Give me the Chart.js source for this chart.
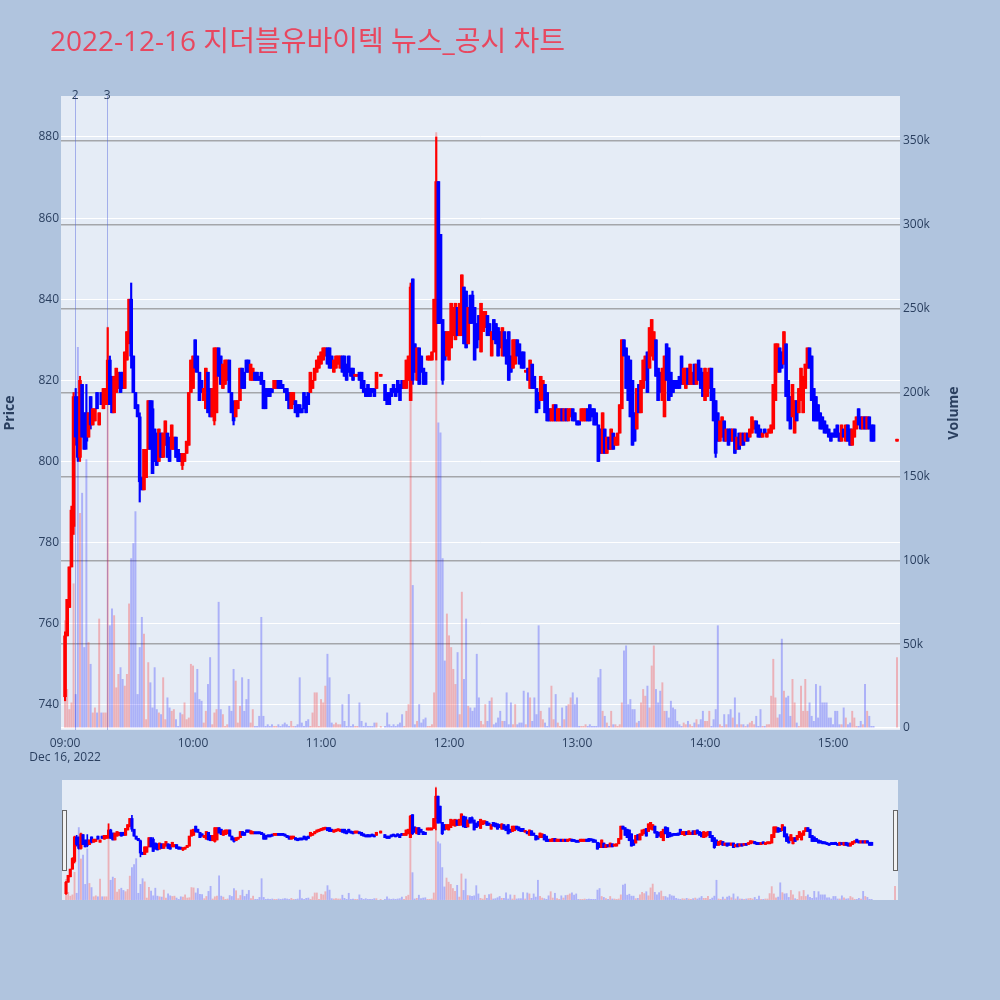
<!DOCTYPE html>
<html>
<head>
<meta charset="utf-8">
<script src="https://cdn.jsdelivr.net/npm/chart.js@4.4.0/dist/chart.umd.min.js"></script>
<style>
  body { margin: 0; background: #b0c4de; }
  #wrap { position: relative; width: 1000px; height: 1000px; }
  #title { position: absolute; left: 50px; top: 26px; line-height: 28px; font-size: 28px;
           color: #e8475f; font-family: "Open Sans", "Noto Sans CJK KR", sans-serif; white-space: nowrap; }
  #main { position: absolute; left: 0; top: 0; }
  #slider { position: absolute; left: 62px; top: 780px; }
</style>
</head>
<body>
<div id="wrap">
  <canvas id="main" width="1000" height="780"></canvas>
  <canvas id="slider" width="836" height="120"></canvas>
  <div id="title">2022-12-16 지더블유바이텍 뉴스_공시 차트</div>
</div>
<script>
// one entry per minute from 09:00 (index = minutes after 09:00), null = no trade
const opens = [
  742,757,764,774,784,816,806,801,819,812,
  812,806,816,809,810,817,809,817,813,814,
  815,825,821,812,817,818,822,822,818,825,
  830,840,826,817,814,811,796,793,796,803,
  815,813,808,807,800,807,801,804,807,806,
  803,803,806,803,802,799,800,802,804,817,
  818,830,826,822,820,815,813,822,818,811,
  810,812,828,826,818,819,820,825,817,814,
  811,813,815,823,822,825,825,820,820,822,
  822,821,822,820,818,818,818,818,818,818,
  820,820,819,818,818,817,813,814,815,814,
  814,813,817,816,817,817,818,820,822,823,
  824,825,826,828,828,826,822,823,824,823,
  826,826,824,826,823,823,821,821,822,822,
  820,818,819,818,818,818,818,null,821,null,
  819,817,817,818,819,818,820,819,820,818,
  818,820,815,845,829,820,828,826,823,822,
  825,825,825,827,840,869,856,835,832,826,
  825,828,831,830,838,831,835,843,842,829,
  841,841,838,834,836,827,832,833,836,834,
  826,835,834,833,832,826,832,830,832,826,
  823,824,830,829,827,827,822,823,818,824,
  821,818,817,815,815,819,817,813,810,810,
  814,810,810,813,810,813,810,811,813,812,
  810,810,810,810,810,813,814,813,813,812,
  809,808,802,808,802,806,803,807,804,804,
  807,813,830,828,826,825,820,812,808,819,
  812,818,820,827,823,826,825,830,823,822,
  815,811,829,828,822,820,820,820,821,826,
  819,818,823,819,819,824,819,825,823,822,
  815,816,818,823,818,815,812,805,806,810,
  805,808,808,805,808,803,807,804,807,805,
  807,806,807,808,810,809,808,806,808,806,
  807,807,808,815,822,828,827,824,829,820,
  816,811,807,815,812,815,812,818,823,828,
  826,818,816,814,812,811,810,809,808,807,
  807,808,809,807,805,808,805,809,808,804,
  806,808,813,811,808,811,808,811,809,809,
  null,null,null,null,null,null,null,null,null,null,
  805
];
const closes = [
  757,766,774,788,816,806,801,820,806,803,
  805,812,809,813,813,813,812,814,818,818,
  825,814,812,821,823,822,817,818,827,832,
  840,826,817,813,811,795,793,803,803,815,
  803,797,800,799,808,801,807,810,801,800,
  809,806,801,800,800,802,802,805,817,825,
  826,823,822,815,817,818,823,812,811,818,
  828,828,821,819,824,825,825,817,812,810,
  815,815,823,818,818,822,822,824,823,820,
  820,820,819,813,813,816,816,817,820,820,
  818,818,818,817,815,813,817,817,812,811,
  812,812,813,812,814,822,820,823,825,826,
  827,828,828,824,823,823,825,826,826,826,
  822,821,820,822,821,820,821,821,820,818,
  817,816,816,816,817,816,822,null,821,null,
  815,814,814,816,817,816,817,815,818,820,
  825,826,843,820,822,828,819,822,819,819,
  826,826,827,840,869,834,835,820,825,832,
  832,839,838,839,831,839,846,829,828,838,
  834,836,825,828,830,839,837,837,831,831,
  832,830,829,826,828,833,826,824,820,822,
  830,830,826,824,823,823,822,820,825,818,
  818,812,813,821,820,812,810,810,813,814,
  810,813,813,810,813,810,813,813,810,810,
  809,809,813,813,813,810,810,811,809,809,
  800,802,812,802,806,803,808,803,806,807,
  814,830,826,818,815,811,804,805,818,812,
  820,825,826,817,833,835,832,821,815,817,
  823,826,820,815,816,817,818,818,818,819,
  823,823,819,824,822,819,824,820,818,816,
  823,822,823,815,810,802,805,810,811,805,
  808,804,805,808,802,806,803,807,804,807,
  805,808,811,810,807,806,806,807,807,807,
  808,809,819,829,829,822,823,832,816,810,
  808,819,815,810,818,823,821,824,828,823,
  815,810,810,810,808,808,807,807,806,805,
  806,806,806,805,809,806,809,805,804,808,
  810,811,809,808,811,808,811,808,805,805,
  null,null,null,null,null,null,null,null,null,null,
  805
];
// volume in thousands of shares
const volumes = [
  64,23,11,15,86,20,227,128,140,48,
  160,51,38,9,12,9,65,9,9,9,
  239,61,71,67,24,32,36,29,25,32,
  74,101,110,129,20,48,66,56,5,39,
  27,12,36,11,9,8,30,5,18,12,
  10,11,5,1,9,8,15,5,6,38,
  37,21,35,17,16,3,10,26,42,2,
  9,11,75,11,8,1,2,13,10,35,
  28,3,13,30,10,17,29,3,11,1,
  1,7,66,7,1,2,1,2,1,1,
  2,1,2,3,2,1,4,1,1,2,
  30,3,1,4,5,1,9,21,21,1,
  17,15,25,44,30,3,2,3,2,2,
  14,4,1,20,1,2,1,1,15,4,
  1,3,1,1,1,3,3,null,1,null,
  1,9,2,1,2,1,2,3,8,1,
  10,14,264,85,2,4,14,3,5,6,
  1,1,2,21,355,182,176,101,40,68,
  55,48,35,26,45,8,81,29,65,13,
  12,10,12,44,18,4,2,14,4,16,
  18,2,3,6,10,4,4,21,2,15,
  2,14,2,3,3,22,2,21,18,4,
  18,8,61,10,5,3,1,12,25,5,
  20,3,1,12,5,13,14,18,21,14,
  18,1,1,1,2,1,2,1,1,1,
  30,35,10,7,3,1,10,2,2,1,
  2,15,46,49,14,17,11,11,3,4,
  15,23,19,25,12,37,49,23,15,22,
  27,10,10,6,16,12,11,4,2,1,
  3,2,4,2,1,3,5,2,5,10,
  4,4,10,1,5,11,61,2,1,8,
  2,8,11,6,18,2,9,2,2,1,
  2,3,4,2,7,1,11,1,1,2,
  2,19,41,18,6,8,53,22,18,19,
  7,29,15,3,1,25,10,29,10,15,
  7,4,26,6,25,15,15,15,6,6,
  2,10,10,2,2,12,6,2,3,10,
  6,1,1,4,2,26,10,7,1,1,
  null,null,null,null,null,null,null,null,null,null,
  42
];
// [minute, low, high] where the wick goes past the body
const wicks = [
  [0,741,758],[3,781,789],[4,782,817],[5,804,818],[6,800,816],[7,800,821],
  [10,803,819],[12,808,816],[20,814,833],[21,814,826],[30,829,840],[31,823,844],
  [35,790,812],[37,793,803],[41,797,815],[55,798,802],[61,822,830],[70,809,828],
  [79,809,815],[162,815,844],[163,819,845],[174,825,880],[175,834,869],[176,834,856],
  [177,819,835],[186,831,846],[191,834,842],[250,800,809],[262,826,830],[266,804,820],
  [275,826,835],[281,811,826],[289,819,826],[305,801,815],[337,824,832],[342,807,815],
  [372,809,813]
];
const newsMinutes = [4.7, 19.7];
const newsLabels = ["2", "3"];
const priceTicks = [740, 760, 780, 800, 820, 840, 860, 880];
const volumeTicks = [0, 50, 100, 150, 200, 250, 300, 350];
const timeTicks = [0, 60, 120, 180, 240, 300, 360];

const UP = "#ff0000", DOWN = "#0000ff";
const X_MIN = -1.9, X_MAX = 391.4;
const P_MIN = 733.8, P_MAX = 890.1;
const V_MIN = -1.2, V_MAX = 376.8;
const TXT = "#2a3f5f";

function buildDatasets(bodyW, wickW, volW) {
  const body = [], wick = [], vol = [], bodyCol = [], volCol = [];
  for (let m = 0; m < opens.length; m++) {
    if (opens[m] == null) continue;
    const o = opens[m], c = closes[m];
    let lo = Math.min(o, c), hi = Math.max(o, c);
    const w = wicks.find(a => a[0] === m);
    if (w) { lo = Math.min(lo, w[1]); hi = Math.max(hi, w[2]); }
    const up = c >= o;
    body.push({ x: m, y: [o, c] });
    wick.push({ x: m, y: [lo, hi] });
    vol.push({ x: m, y: volumes[m] });
    bodyCol.push(up ? UP : DOWN);
    volCol.push(up ? "rgba(255,0,0,0.25)" : "rgba(0,0,255,0.25)");
  }
  return [
    { data: body, backgroundColor: bodyCol, barThickness: bodyW, minBarLength: 2,
      grouped: false, yAxisID: "y", order: 1 },
    { data: wick, backgroundColor: bodyCol, barThickness: wickW, minBarLength: 2,
      grouped: false, yAxisID: "y", order: 2 },
    { data: vol, backgroundColor: volCol, barThickness: volW,
      grouped: false, yAxisID: "yv", order: 3 },
  ];
}

function hhmm(v) {
  const h = 9 + Math.floor(v / 60), m = v % 60;
  return String(h).padStart(2, "0") + ":" + String(m).padStart(2, "0");
}

const plotBg = {
  id: "plotBg",
  beforeDraw(chart) {
    const { ctx, chartArea: a } = chart;
    ctx.save();
    ctx.fillStyle = "#e5ecf6";
    ctx.fillRect(a.left, a.top, a.right - a.left, a.bottom - a.top);
    ctx.restore();
  }
};

const news = {
  id: "news",
  beforeDatasetsDraw(chart) {
    const { ctx, chartArea: a } = chart;
    const xs = chart.scales.x;
    ctx.save();
    ctx.strokeStyle = "rgba(80,100,220,0.45)";
    ctx.lineWidth = 1;
    newsMinutes.forEach(t => {
      const px = Math.round(xs.getPixelForValue(t)) + 0.5;
      ctx.beginPath(); ctx.moveTo(px, a.top); ctx.lineTo(px, a.bottom); ctx.stroke();
    });
    ctx.restore();
  },
  afterDraw(chart) {
    const { ctx, chartArea: a } = chart;
    const xs = chart.scales.x;
    ctx.save();
    ctx.fillStyle = TXT;
    ctx.font = '12px "Open Sans"';
    ctx.textAlign = "center";
    ctx.textBaseline = "middle";
    newsMinutes.forEach((t, i) => ctx.fillText(newsLabels[i], xs.getPixelForValue(t), a.top));
    ctx.font = 'bold 14px "Open Sans"';
    [["Price", 10], ["Volume", 954]].forEach(([s, x]) => {
      ctx.save();
      ctx.translate(x, 413);
      ctx.rotate(-Math.PI / 2);
      ctx.fillText(s, 0, 0);
      ctx.restore();
    });
    ctx.restore();
  }
};

const tickFont = { family: "Open Sans", size: 12 };

new Chart(document.getElementById("main"), {
  type: "bar",
  data: { datasets: buildDatasets(3, 1.5, 1.3) },
  options: {
    responsive: false,
    animation: false,
    events: [],
    layout: { padding: { top: 96, left: 0, right: 0, bottom: 0 } },
    plugins: { legend: { display: false }, tooltip: { enabled: false } },
    scales: {
      x: {
        type: "linear", min: X_MIN, max: X_MAX, offset: false,
        afterFit(s) { s.height = 50; },
        afterBuildTicks(s) { s.ticks = timeTicks.map(v => ({ value: v })); },
        grid: { display: false, offset: false, drawTicks: false },
        border: { display: false },
        ticks: {
          color: TXT, font: tickFont, padding: 6, maxRotation: 0,
          callback: v => v === 0 ? [hhmm(v), "Dec 16, 2022"] : hhmm(v)
        }
      },
      y: {
        position: "left", min: P_MIN, max: P_MAX,
        afterFit(s) { s.width = 61; },
        afterBuildTicks(s) { s.ticks = priceTicks.map(v => ({ value: v })); },
        grid: { color: "#ffffff", lineWidth: 1, drawTicks: false },
        border: { display: false },
        ticks: { color: TXT, font: tickFont, padding: 2 }
      },
      yv: {
        position: "right", min: V_MIN, max: V_MAX,
        afterFit(s) { s.width = 100; },
        afterBuildTicks(s) { s.ticks = volumeTicks.map(v => ({ value: v })); },
        grid: {
          color: c => c.tick && c.tick.value === 0 ? "#ffffff" : "rgba(120,120,120,0.6)",
          lineWidth: 1.5, drawTicks: false
        },
        border: { display: false },
        ticks: { color: TXT, font: tickFont, padding: 3, callback: v => v === 0 ? "0" : v + "k" }
      }
    }
  },
  plugins: [plotBg, news]
});

const handles = {
  id: "handles",
  afterDraw(chart) {
    const { ctx } = chart;
    ctx.save();
    ctx.fillStyle = "#f2f2f2";
    ctx.strokeStyle = "#666";
    ctx.lineWidth = 1;
    [0.5, chart.width - 4.5].forEach(x => {
      ctx.fillRect(x, 30.5, 4, 60);
      ctx.strokeRect(x, 30.5, 4, 60);
    });
    ctx.restore();
  }
};

new Chart(document.getElementById("slider"), {
  type: "bar",
  data: { datasets: buildDatasets(2.5, 1, 1.2) },
  options: {
    responsive: false,
    animation: false,
    events: [],
    layout: { padding: 0 },
    plugins: { legend: { display: false }, tooltip: { enabled: false } },
    scales: {
      x: { type: "linear", min: X_MIN, max: X_MAX, offset: false, display: false },
      y: { min: P_MIN, max: P_MAX, display: false },
      yv: { position: "right", min: V_MIN, max: V_MAX, display: false }
    }
  },
  plugins: [plotBg, handles]
});
</script>
</body>
</html>
